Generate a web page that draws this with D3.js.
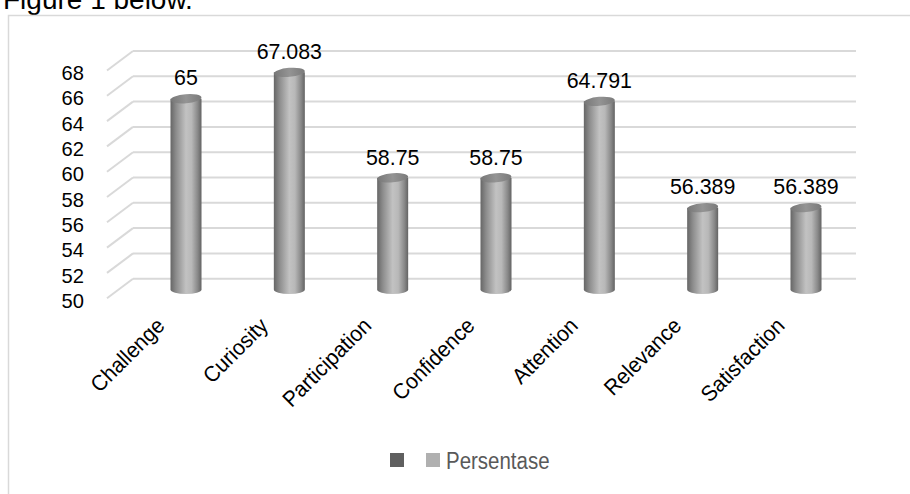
<!DOCTYPE html>
<html>
<head>
<meta charset="utf-8">
<script src="https://cdn.jsdelivr.net/npm/d3@7"></script>
<style>
  body { margin: 0; background: #fff; }
  text { font-family: "Liberation Sans", Arial, sans-serif; }
</style>
</head>
<body>
<script>
// 3D cylinder chart - ARCS scores
const categories = ["Challenge", "Curiosity", "Participation", "Confidence", "Attention", "Relevance", "Satisfaction"];
const values = [65, 67.083, 58.75, 58.75, 64.791, 56.389, 56.389];
const valueLabels = ["65", "67.083", "58.75", "58.75", "64.791", "56.389", "56.389"];
const yTicks = [50, 52, 54, 56, 58, 60, 62, 64, 66, 68];
const seriesName = "Persentase";

const WIDTH = 910, HEIGHT = 494;
// depth offsets (front of floor vs back wall)
const DEPTH_X = 26, DEPTH_Y = 19.5;
const BAR_W = 31;

const svg = d3.select("body").append("svg")
    .attr("width", WIDTH)
    .attr("height", HEIGHT);

svg.append("rect").attr("width", WIDTH).attr("height", HEIGHT).attr("fill", "#fff");

// caption cut off at the top (as in the source page)
svg.append("text")
    .attr("x", 3).attr("y", 9)
    .style("font-size", "28px")
    .attr("fill", "#000")
    .text("Figure 1 below.");

// frame
svg.append("path")
    .attr("d", "M8.5,494 V15.5 H910")
    .attr("fill", "none")
    .attr("stroke", "#d9d9d9")
    .attr("stroke-width", 1.5);

// scales: y on the back wall
const yScale = d3.scaleLinear().domain([50, 68]).range([278.7, 51]);
const xScale = d3.scalePoint().domain(categories).range([186, 806]);
const wallLeft = 133, wallRight = 856;

// gridlines: back wall lines + side wall diagonals
const grid = svg.append("g");
grid.selectAll(".back").data(yTicks).join("line")
    .attr("x1", wallLeft).attr("x2", wallRight)
    .attr("y1", d => yScale(d)).attr("y2", d => yScale(d))
    .attr("stroke", "#d9d9d9").attr("stroke-width", 2);
grid.selectAll(".side").data(yTicks).join("line")
    .attr("x1", wallLeft - DEPTH_X).attr("x2", wallLeft)
    .attr("y1", d => yScale(d) + DEPTH_Y).attr("y2", d => yScale(d))
    .attr("stroke", "#d9d9d9").attr("stroke-width", 2);

// y labels at the front edge
svg.append("g").selectAll("text").data(yTicks).join("text")
    .attr("transform", d => `translate(84,${yScale(d) + DEPTH_Y + 2}) scale(0.96,1)`)
    .attr("text-anchor", "end")
    .attr("dominant-baseline", "central")
    .style("font-size", "21px")
    .attr("fill", "#000")
    .text(d => d);

// cylinder gradients
const defs = svg.append("defs");
const body = defs.append("linearGradient").attr("id", "cyl").attr("x1", 0).attr("x2", 1).attr("y1", 0).attr("y2", 0);
[["0%", "#666"], ["18%", "#8c8c8c"], ["50%", "#c2c2c2"], ["68%", "#b8b8b8"], ["88%", "#888"], ["100%", "#636363"]]
    .forEach(s => body.append("stop").attr("offset", s[0]).attr("stop-color", s[1]));
const cap = defs.append("linearGradient").attr("id", "cap").attr("x1", 0).attr("x2", 1).attr("y1", 0).attr("y2", 0);
[["0%", "#777"], ["50%", "#949494"], ["100%", "#7a7a7a"]]
    .forEach(s => cap.append("stop").attr("offset", s[0]).attr("stop-color", s[1]));

// bars sit halfway into the depth
const midY = v => yScale(v) + DEPTH_Y / 2;
const midX = c => xScale(c);
const RY = 4.5;

const bars = svg.append("g").selectAll("g").data(values).join("g");
bars.append("path")
    .attr("d", (d, i) => {
        const cx = midX(categories[i]), top = midY(d), bot = midY(50) + 1;
        const l = cx - BAR_W / 2, r = cx + BAR_W / 2;
        return `M${l},${top} L${l},${bot} A${BAR_W / 2},${RY} 0 0 0 ${r},${bot} L${r},${top} Z`;
    })
    .attr("fill", "url(#cyl)");
bars.append("ellipse")
    .attr("cx", (d, i) => midX(categories[i]))
    .attr("cy", d => midY(d))
    .attr("rx", BAR_W / 2).attr("ry", RY)
    .attr("transform", (d, i) => `rotate(-5 ${midX(categories[i])} ${midY(d)})`)
    .attr("fill", "url(#cap)");

// value labels
svg.append("g").selectAll("text").data(values).join("text")
    .attr("transform", (d, i) => `translate(${midX(categories[i])},${midY(d) - 21}) scale(0.93,1)`)
    .attr("text-anchor", "middle")
    .attr("dominant-baseline", "central")
    .style("font-size", "23px")
    .attr("fill", "#000")
    .text((d, i) => valueLabels[i]);

// category labels, rotated
svg.append("g").selectAll("text").data(categories).join("text")
    .attr("transform", d => `translate(${midX(d) - 20},${327}) rotate(-45) scale(0.95,1)`)
    .attr("text-anchor", "end")
    .style("font-size", "22px")
    .attr("fill", "#000")
    .text(d => d);

// legend
const legend = svg.append("g");
legend.append("rect").attr("x", 390).attr("y", 453).attr("width", 14).attr("height", 14).attr("fill", "#5f5f5f");
legend.append("rect").attr("x", 426).attr("y", 453).attr("width", 14).attr("height", 14).attr("fill", "#b0b0b0");
legend.append("text")
    .attr("transform", "translate(446,461) scale(0.89,1)")
    .attr("dominant-baseline", "central")
    .style("font-size", "23px")
    .attr("fill", "#595959")
    .text(seriesName);
</script>
</body>
</html>
